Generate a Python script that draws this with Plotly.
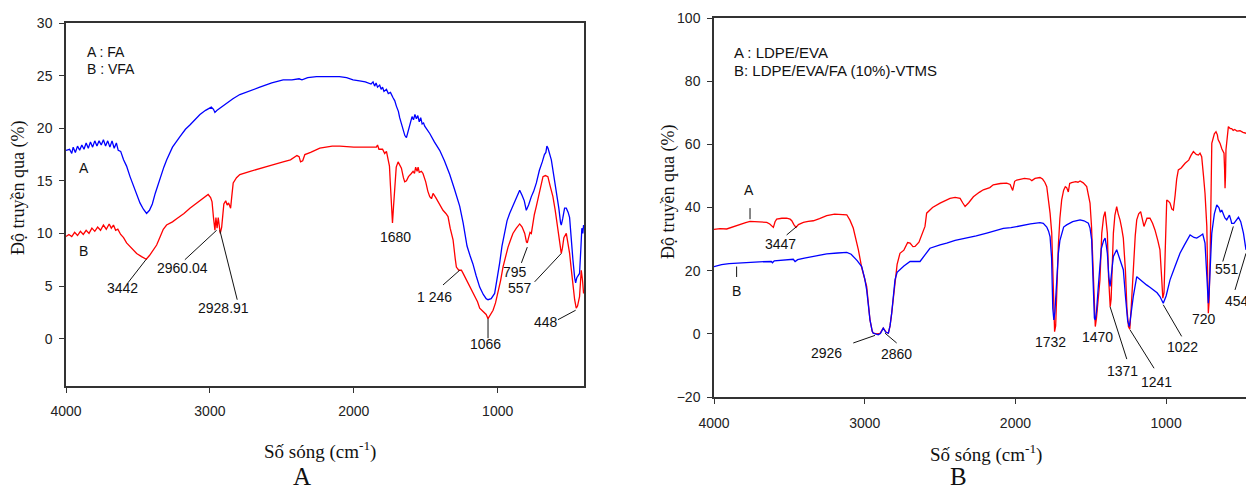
import plotly.graph_objects as go

# ---------------- Panel A data (FA / VFA) ----------------
wn_FA = [4000, 3975, 3960, 3950, 3935, 3920, 3905, 3890, 3875, 3860, 3845, 3830, 3815, 3800, 3785, 3770,
         3755, 3740, 3725, 3710, 3695, 3680, 3665, 3650, 3637, 3620, 3600, 3579, 3555, 3532, 3510, 3486,
         3462, 3440, 3420, 3400, 3380, 3360, 3340, 3320, 3300, 3260, 3208, 3170, 3139, 3100, 3069, 3030,
         2990, 2975, 2965, 2950, 2920, 2884, 2840, 2792, 2720, 2653, 2570, 2491, 2430, 2380, 2360, 2320,
         2259, 2180, 2100, 2050, 2005, 1960, 1920, 1880, 1866, 1855, 1845, 1835, 1820, 1810, 1800, 1790,
         1773, 1760, 1745, 1727, 1715, 1704, 1690, 1681, 1670, 1657, 1645, 1634, 1620, 1605, 1595, 1585,
         1575, 1565, 1555, 1545, 1535, 1525, 1515, 1507, 1490, 1472, 1440, 1403, 1370, 1333, 1300, 1264,
         1240, 1213, 1190, 1172, 1150, 1125, 1100, 1080, 1067, 1045, 1021, 1005, 986, 970, 951, 935,
         917, 880, 847, 830, 815, 801, 785, 766, 750, 731, 710, 690, 675, 665, 658, 650,
         640, 627, 610, 593, 575, 563, 558, 548, 535, 523, 510, 500, 490, 477, 465, 458,
         450, 440, 431, 422, 415, 408, 403]
T_FA = [17.9, 18.0, 17.6, 18.2, 17.7, 18.3, 17.9, 18.4, 18.0, 18.6, 18.1, 18.7, 18.2, 18.8, 18.3, 18.8,
        18.4, 18.9, 18.3, 18.8, 18.2, 18.8, 18.1, 18.6, 17.9, 17.8, 17.0, 16.4, 15.4, 14.5, 13.7, 12.9,
        12.3, 11.9, 12.2, 12.8, 13.8, 14.7, 15.5, 16.3, 17.0, 18.2, 19.2, 19.9, 20.3, 20.9, 21.3, 21.7,
        22.0, 21.8, 21.5, 21.7, 22.0, 22.4, 22.8, 23.2, 23.6, 23.9, 24.3, 24.6, 24.6, 24.7, 24.6, 24.8,
        24.9, 24.9, 24.9, 24.8, 24.6, 24.5, 24.4, 24.2, 24.4, 24.0, 24.3, 23.9, 24.1, 23.7, 23.9, 23.5,
        23.7, 23.3, 23.4, 22.9, 22.6, 22.1, 21.6, 21.0, 20.4, 19.8, 19.3, 19.1, 19.8, 20.6, 21.1, 20.8,
        21.3, 20.9, 21.2, 20.6, 21.0, 20.4, 20.5, 20.2, 19.9, 19.5, 18.7, 17.9, 16.9, 15.6, 14.2, 12.6,
        11.0, 8.8, 7.8, 7.1, 6.0, 4.9, 4.2, 3.8, 3.7, 3.8, 4.3, 5.5, 7.2, 8.8, 10.3, 11.2,
        11.9, 13.0, 14.1, 13.6, 13.1, 12.2, 12.7, 13.5, 14.0, 14.8, 16.0, 16.8, 17.5, 17.7, 18.3, 18.1,
        17.6, 17.0, 15.5, 14.1, 12.4, 11.0, 10.8, 11.4, 12.4, 12.4, 12.0, 11.5, 9.5, 7.5, 5.8, 5.3,
        5.8, 6.0, 6.2, 8.5, 10.5, 10.0, 10.8]

wn_VFA = [4000, 3980, 3960, 3940, 3920, 3900, 3880, 3860, 3840, 3820, 3800, 3780, 3760, 3740, 3720, 3700,
          3685, 3670, 3655, 3640, 3620, 3600, 3579, 3545, 3509, 3475, 3442, 3420, 3400, 3370, 3345, 3324,
          3301, 3260, 3231, 3180, 3139, 3100, 3069, 3030, 3012, 2995, 2985, 2975, 2965, 2958, 2950, 2942,
          2935, 2928, 2918, 2910, 2903, 2890, 2880, 2870, 2856, 2848, 2838, 2815, 2792, 2720, 2653, 2570,
          2491, 2440, 2395, 2380, 2370, 2355, 2340, 2300, 2236, 2150, 2097, 2000, 1900, 1843, 1835, 1825,
          1800, 1785, 1773, 1762, 1752, 1745, 1738, 1731, 1724, 1715, 1705, 1692, 1680, 1669, 1655, 1646,
          1634, 1620, 1600, 1588, 1578, 1570, 1560, 1553, 1545, 1530, 1519, 1500, 1485, 1472, 1460, 1449,
          1430, 1414, 1395, 1380, 1360, 1345, 1330, 1310, 1295, 1287, 1270, 1252, 1240, 1218, 1190, 1160,
          1140, 1125, 1100, 1080, 1067, 1050, 1032, 1015, 998, 980, 963, 945, 928, 910, 894, 870,
          847, 830, 812, 800, 794, 785, 775, 766, 755, 745, 731, 710, 685, 668, 651, 635,
          616, 600, 590, 581, 570, 558, 550, 540, 523, 512, 500, 490, 477, 465, 454, 445,
          431, 425, 419, 410, 403]
T_VFA = [9.7, 9.9, 9.7, 10.1, 9.8, 10.2, 9.9, 10.3, 10.0, 10.5, 10.2, 10.6, 10.3, 10.8, 10.4, 10.9,
         10.5, 10.8, 10.3, 10.4, 9.9, 9.6, 9.1, 8.6, 8.1, 7.8, 7.55, 7.9, 8.3, 8.9, 9.7, 10.4,
         10.8, 11.1, 11.4, 11.9, 12.4, 12.8, 13.2, 13.6, 13.7, 13.4, 13.0, 11.5, 10.3, 11.5, 10.5, 11.5,
         10.4, 10.0, 10.6, 12.2, 12.8, 13.1, 12.7, 12.9, 12.4, 13.5, 14.8, 15.3, 15.6, 15.9, 16.2, 16.5,
         16.8, 17.0, 17.4, 17.3, 16.8, 16.9, 17.5, 17.7, 18.1, 18.3, 18.3, 18.2, 18.2, 18.2, 18.4, 18.0,
         18.0, 17.6, 17.8, 17.2, 16.4, 14.5, 12.0, 11.0, 12.5, 14.8, 16.3, 16.8, 16.5, 16.2, 15.3, 14.9,
         15.0, 15.4, 15.7, 15.9, 15.7, 16.3, 15.9, 16.3, 15.8, 15.9, 15.7, 14.9, 14.0, 13.5, 13.3, 13.8,
         13.4, 13.0, 12.5, 12.2, 11.9, 11.6, 10.5, 9.4, 7.6, 6.8, 6.5, 6.5, 6.2, 5.6, 4.8, 4.0,
         3.5, 2.9, 2.6, 2.3, 1.9, 2.3, 2.7, 3.4, 4.3, 5.5, 6.8, 7.9, 8.7, 9.4, 10.0, 10.5,
         10.9, 10.6, 10.0, 9.2, 9.1, 9.6, 10.1, 10.0, 11.2, 11.8, 12.6, 13.8, 15.4, 15.5, 15.4, 14.5,
         13.5, 12.2, 11.2, 10.7, 9.5, 8.1, 8.6, 9.6, 10.0, 9.2, 8.1, 6.8, 4.9, 3.7, 2.9, 3.1,
         4.0, 5.2, 6.5, 5.5, 4.3]

# ---------------- Panel B data (LDPE/EVA and LDPE/EVA/FA-VTMS) ----------------
wn_EVA = [4000, 3960, 3916, 3870, 3827, 3790, 3761, 3720, 3680, 3650, 3630, 3617, 3606, 3595, 3584, 3550,
          3518, 3495, 3484, 3470, 3456, 3440, 3407, 3375, 3341, 3300, 3252, 3200, 3164, 3119, 3098, 3076,
          3042, 3020, 2987, 2965, 2950, 2943, 2920, 2899, 2885, 2877, 2865, 2855, 2843, 2832, 2821, 2810,
          2799, 2785, 2766, 2740, 2715, 2699, 2680, 2666, 2640, 2620, 2600, 2589, 2550, 2500, 2434, 2400,
          2367, 2350, 2334, 2310, 2279, 2240, 2213, 2170, 2147, 2100, 2058, 2035, 2018, 2005, 1991, 1940,
          1925, 1905, 1891, 1870, 1837, 1820, 1805, 1792, 1780, 1770, 1759, 1752, 1745, 1740, 1733, 1725,
          1715, 1705, 1693, 1680, 1669, 1660, 1649, 1640, 1627, 1600, 1585, 1571, 1550, 1527, 1505, 1495,
          1483, 1475, 1470, 1462, 1450, 1439, 1427, 1415, 1405, 1398, 1390, 1382, 1376, 1371, 1365, 1358,
          1350, 1340, 1328, 1318, 1306, 1295, 1284, 1270, 1260, 1250, 1241, 1232, 1218, 1205, 1195, 1182,
          1169, 1158, 1147, 1127, 1107, 1090, 1074, 1055, 1041, 1030, 1022, 1014, 1008, 1000, 996, 985,
          974, 962, 952, 940, 930, 919, 900, 874, 850, 835, 819, 800, 786, 775, 764, 752,
          742, 730, 724, 720, 715, 708, 697, 688, 680, 669, 660, 655, 642, 630, 616, 612,
          609, 606, 603, 595, 587, 575, 565, 555, 545, 530, 510, 490, 470]
T_EVA = [33.1, 33.3, 33.2, 34.0, 34.6, 35.2, 35.6, 35.5, 35.4, 35.3, 34.8, 34.2, 33.7, 35.5, 36.3, 36.6,
         36.6, 36.3, 35.8, 34.6, 33.7, 34.6, 35.3, 35.6, 35.8, 36.5, 37.4, 37.9, 37.9, 37.7, 36.0, 33.5,
         26.6, 21.0, 15.0, 4.4, 0.8, 0.2, 0.0, 0.1, 1.2, 1.8, 1.0, 0.4, 0.2, 2.5, 6.5, 12.0,
         17.1, 22.0, 25.5, 26.5, 28.9, 28.7, 27.6, 27.7, 29.0, 31.5, 34.0, 38.2, 40.0, 41.4, 42.9, 43.2,
         42.9, 41.5, 40.3, 41.5, 43.4, 44.8, 45.6, 46.3, 47.2, 47.6, 47.7, 47.3, 45.4, 48.3, 48.7, 49.2,
         49.2, 49.0, 48.5, 49.2, 49.5, 49.0, 48.0, 46.6, 42.0, 38.2, 31.9, 18.0, 3.0, 0.7, 2.5, 15.0,
         28.0, 36.5, 42.4, 45.5, 46.6, 46.3, 44.9, 47.6, 47.9, 48.2, 48.0, 48.4, 47.8, 46.6, 41.4, 34.0,
         20.0, 6.0, 2.3, 5.0, 12.0, 17.1, 31.9, 37.0, 38.7, 36.0, 31.9, 18.0, 10.0, 8.6, 11.0, 20.0,
         31.9, 37.5, 40.3, 38.0, 36.1, 33.5, 30.3, 20.0, 8.0, 2.3, 1.5, 8.0, 20.3, 31.0, 36.1, 38.0,
         38.7, 36.5, 34.0, 36.6, 36.6, 35.0, 32.9, 29.5, 26.6, 18.0, 11.3, 13.0, 24.5, 36.0, 42.4, 42.0,
         41.4, 39.5, 39.2, 44.0, 49.0, 51.9, 52.5, 54.0, 55.0, 56.5, 57.7, 56.8, 56.6, 57.2, 56.1, 50.0,
         44.5, 34.0, 18.0, 6.5, 10.0, 24.5, 60.3, 62.5, 63.3, 64.0, 63.0, 61.5, 60.3, 58.5, 57.2, 52.0,
         46.1, 50.0, 58.2, 63.0, 65.6, 65.0, 65.0, 64.4, 64.7, 64.2, 64.3, 63.8, 63.5]

wn_VTMS = [4000, 3950, 3900, 3850, 3800, 3700, 3620, 3612, 3600, 3540, 3474, 3462, 3445, 3400, 3341, 3300,
           3252, 3180, 3119, 3090, 3076, 3050, 3020, 3000, 2987, 2965, 2950, 2943, 2910, 2895, 2877, 2860,
           2843, 2832, 2821, 2810, 2799, 2785, 2766, 2740, 2699, 2660, 2633, 2600, 2567, 2500, 2456, 2400,
           2323, 2260, 2190, 2130, 2080, 2030, 1969, 1900, 1837, 1815, 1792, 1780, 1770, 1760, 1752, 1745,
           1738, 1728, 1715, 1705, 1693, 1680, 1660, 1620, 1571, 1545, 1516, 1505, 1494, 1484, 1476, 1470,
           1462, 1450, 1443, 1430, 1415, 1405, 1397, 1390, 1380, 1372, 1365, 1358, 1350, 1328, 1305, 1284,
           1270, 1255, 1244, 1235, 1218, 1195, 1178, 1162, 1130, 1110, 1085, 1060, 1041, 1030, 1019, 1000,
           974, 940, 908, 880, 841, 815, 797, 775, 757, 742, 732, 725, 720, 714, 706, 697,
           680, 664, 650, 640, 631, 620, 610, 598, 588, 580, 570, 565, 550, 535, 520, 505,
           487, 470]
T_VTMS = [21.3, 21.9, 22.2, 22.4, 22.6, 22.8, 22.9, 22.5, 23.1, 23.4, 23.6, 22.9, 23.5, 24.0, 24.5, 24.9,
          25.3, 25.6, 25.8, 25.2, 24.5, 23.2, 21.3, 17.5, 13.9, 4.4, 0.8, 0.2, -0.3, 0.2, 1.8, 0.5,
          0.2, 2.5, 6.5, 12.0, 17.1, 19.5, 20.3, 21.5, 22.9, 22.9, 22.9, 25.0, 27.1, 28.2, 28.7, 29.6,
          30.3, 31.0, 31.9, 32.8, 33.4, 33.6, 34.2, 34.8, 35.2, 35.0, 33.8, 32.5, 30.7, 24.0, 8.0, 4.4,
          7.0, 16.0, 25.5, 29.5, 31.9, 33.8, 34.5, 35.5, 36.1, 35.8, 35.0, 33.5, 29.7, 15.0, 5.0, 4.4,
          7.0, 15.0, 20.3, 27.0, 29.5, 30.3, 28.0, 25.5, 18.0, 15.0, 18.0, 22.0, 24.5, 26.6, 23.5, 20.3,
          12.0, 4.0, 2.3, 6.0, 11.8, 18.1, 17.4, 16.6, 15.5, 14.8, 13.9, 13.0, 11.8, 10.8, 9.7, 12.0,
          17.1, 21.5, 25.5, 28.0, 31.3, 30.5, 30.3, 31.0, 31.6, 28.7, 20.0, 11.0, 9.7, 14.0, 25.0, 31.9,
          38.0, 40.8, 40.0, 38.5, 39.2, 37.8, 36.7, 36.1, 37.0, 37.6, 36.0, 35.0, 35.0, 36.0, 36.9, 35.5,
          31.9, 26.6]

# ---------------- Peak labels ----------------
# Panel A: label text, label position, leader line (from -> to)
A_lab_text = ["3442", "2960.04", "2928.91", "1680", "1 246", "1066", "795", "557", "448"]
A_lab_x = [3604, 3190, 2903, 1708, 1438, 1083, 880, 847, 662]
A_lab_y = [4.8, 6.7, 2.9, 9.7, 4.0, -0.5, 6.3, 4.8, 1.6]
A_ln_x0 = [3570, 3174, 2931, None, 1380, 1067, 835, 743, 581]
A_ln_y0 = [5.3, 7.5, 10.3, None, 5.1, 1.9, 7.2, 5.4, 1.8]
A_ln_x1 = [3442, 2953, 2810, None, 1264, 1067, 794, 558, 458]
A_ln_y1 = [7.55, 10.3, 3.7, None, 6.5, 0.04, 8.7, 8.1, 2.7]

B_lab_text = ["3447", "2926", "2860", "1732", "1470", "1371", "1241", "1022", "720", "551", "454"]
B_lab_x = [3562, 3252, 2792, 1770, 1454, 1288, 1062, 890, 746, 598, 532]
B_lab_y = [28.5, -6.1, -6.4, -2.6, -1.0, -11.9, -15.1, -4.3, 4.7, 20.6, 10.5]
B_ln_x0 = [3518, 3076, 2865, None, None, 1372, 1240, 1019, None, 624, 543]
B_ln_y0 = [31.3, -2.9, 0.2, None, None, 8.6, 1.3, 9.2, None, 22.9, 13.9]
B_ln_x1 = [3451, 2932, 2788, None, None, 1261, 1080, 897, None, 554, 470]
B_ln_y1 = [34.0, -0.5, -2.9, None, None, -8.0, -10.9, -0.8, None, 34.0, 25.5]

# curve letter markers
A_curve_text = ["A", "B"]
A_curve_x = [3875, 3880]
A_curve_y = [16.2, 8.3]
B_curve_text = ["A", "B"]
B_curve_x = [3765, 3850]
B_curve_y = [45.4, 13.7]
B_curve_ln_x = [3761, 3850]
B_curve_ln_y0 = [39.8, 18.0]
B_curve_ln_y1 = [36.3, 21.3]

A_legend = ["A : FA", "B : VFA"]
A_legend_y = [27.2, 25.6]
B_legend = ["A : LDPE/EVA", "B: LDPE/EVA/FA (10%)-VTMS"]
B_legend_y = [89.2, 83.5]

W, H = 1246, 491
SANS = "Liberation Sans, Arial, sans-serif"
SERIF = "Liberation Serif, Times New Roman, serif"
BLUE = "#0000ff"
RED = "#ff0000"

fig = go.Figure()
fig.add_trace(go.Scatter(x=wn_FA, y=T_FA, mode="lines", line=dict(color=BLUE, width=1.3),
                         xaxis="x", yaxis="y", showlegend=False))
fig.add_trace(go.Scatter(x=wn_VFA, y=T_VFA, mode="lines", line=dict(color=RED, width=1.3),
                         xaxis="x", yaxis="y", showlegend=False))
fig.add_trace(go.Scatter(x=wn_EVA, y=T_EVA, mode="lines", line=dict(color=RED, width=1.3),
                         xaxis="x2", yaxis="y2", showlegend=False))
fig.add_trace(go.Scatter(x=wn_VTMS, y=T_VTMS, mode="lines", line=dict(color=BLUE, width=1.3),
                         xaxis="x2", yaxis="y2", showlegend=False))

annotations = []
shapes = []


def add_labels(texts, xs, ys, x0s, y0s, x1s, y1s, xr, yr):
    for t, x, y, a, b, c, d in zip(texts, xs, ys, x0s, y0s, x1s, y1s):
        annotations.append(dict(text=t, x=x, y=y, xref=xr, yref=yr, showarrow=False,
                                xanchor="center", yanchor="middle",
                                font=dict(family=SANS, size=14, color="#111")))
        if a is not None:
            shapes.append(dict(type="line", x0=a, y0=b, x1=c, y1=d, xref=xr, yref=yr,
                               line=dict(color="#111", width=1)))


add_labels(A_lab_text, A_lab_x, A_lab_y, A_ln_x0, A_ln_y0, A_ln_x1, A_ln_y1, "x", "y")
add_labels(B_lab_text, B_lab_x, B_lab_y, B_ln_x0, B_ln_y0, B_ln_x1, B_ln_y1, "x2", "y2")

for t, x, y in zip(A_curve_text, A_curve_x, A_curve_y):
    annotations.append(dict(text=t, x=x, y=y, xref="x", yref="y", showarrow=False,
                            xanchor="center", yanchor="middle",
                            font=dict(family=SANS, size=14, color="#111")))
for t, x, y in zip(B_curve_text, B_curve_x, B_curve_y):
    annotations.append(dict(text=t, x=x, y=y, xref="x2", yref="y2", showarrow=False,
                            xanchor="center", yanchor="middle",
                            font=dict(family=SANS, size=14, color="#111")))
for x, y0, y1 in zip(B_curve_ln_x, B_curve_ln_y0, B_curve_ln_y1):
    shapes.append(dict(type="line", x0=x, y0=y0, x1=x, y1=y1, xref="x2", yref="y2",
                       line=dict(color="#111", width=1)))

for t, y in zip(A_legend, A_legend_y):
    annotations.append(dict(text=t, x=3868, y=y, xref="x", yref="y", xanchor="left", yanchor="middle",
                            showarrow=False, font=dict(family=SANS, size=14, color="#111")))
for t, y in zip(B_legend, B_legend_y):
    annotations.append(dict(text=t, x=3883, y=y, xref="x2", yref="y2", xanchor="left", yanchor="middle",
                            showarrow=False, font=dict(family=SANS, size=15, color="#111")))

# axis titles and panel letters (paper coordinates)
for cx, cy in [(320, 450), (986, 453)]:
    annotations.append(dict(text="Số sóng (cm<sup>-1</sup>)", x=cx / W, y=1 - cy / H, xref="paper",
                            yref="paper", xanchor="center", yanchor="middle", showarrow=False,
                            font=dict(family=SERIF, size=19, color="#111")))
for cx, cy in [(18, 188), (668, 192)]:
    annotations.append(dict(text="Độ truyền qua (%)", x=cx / W, y=1 - cy / H, xref="paper", yref="paper",
                            xanchor="center", yanchor="middle", textangle=-90, showarrow=False,
                            font=dict(family=SERIF, size=18, color="#111")))
for t, cx in [("A", 302), ("B", 958)]:
    annotations.append(dict(text=t, x=cx / W, y=0, xref="paper", yref="paper",
                            xanchor="center", yanchor="bottom", showarrow=False, borderpad=0,
                            font=dict(family=SERIF, size=25, color="#111")))

axis_common = dict(showline=True, linecolor="#333", linewidth=1.5, ticks="outside", ticklen=5,
                   tickcolor="#333", showgrid=False, zeroline=False, automargin=False,
                   tickfont=dict(family=SANS, size=14, color="#222"))

fig.update_layout(
    width=W, height=H, margin=dict(l=0, r=0, t=0, b=0, autoexpand=False),
    paper_bgcolor="white", plot_bgcolor="white", showlegend=False,
    xaxis=dict(domain=[66 / W, 584 / W], range=[4000, 400], tickvals=[4000, 3000, 2000, 1000],
               anchor="y", mirror=True, ticklabelstandoff=6, **axis_common),
    yaxis=dict(domain=[1 - 386 / H, 1 - 23 / H], range=[-4.5, 30], tickvals=[0, 5, 10, 15, 20, 25, 30],
               anchor="x", mirror=True, ticklabelstandoff=4, **axis_common),
    xaxis2=dict(domain=[714 / W, 1.0], range=[4000, 470], tickvals=[4000, 3000, 2000, 1000],
                anchor="y2", mirror=True, ticklabelstandoff=7, **axis_common),
    yaxis2=dict(domain=[1 - 397 / H, 1 - 18 / H], range=[-20, 100], tickvals=[-20, 0, 20, 40, 60, 80, 100],
                anchor="x2", mirror=False, ticklabelstandoff=4, **axis_common),
    annotations=annotations, shapes=shapes,
)

fig.write_html("out.html")
